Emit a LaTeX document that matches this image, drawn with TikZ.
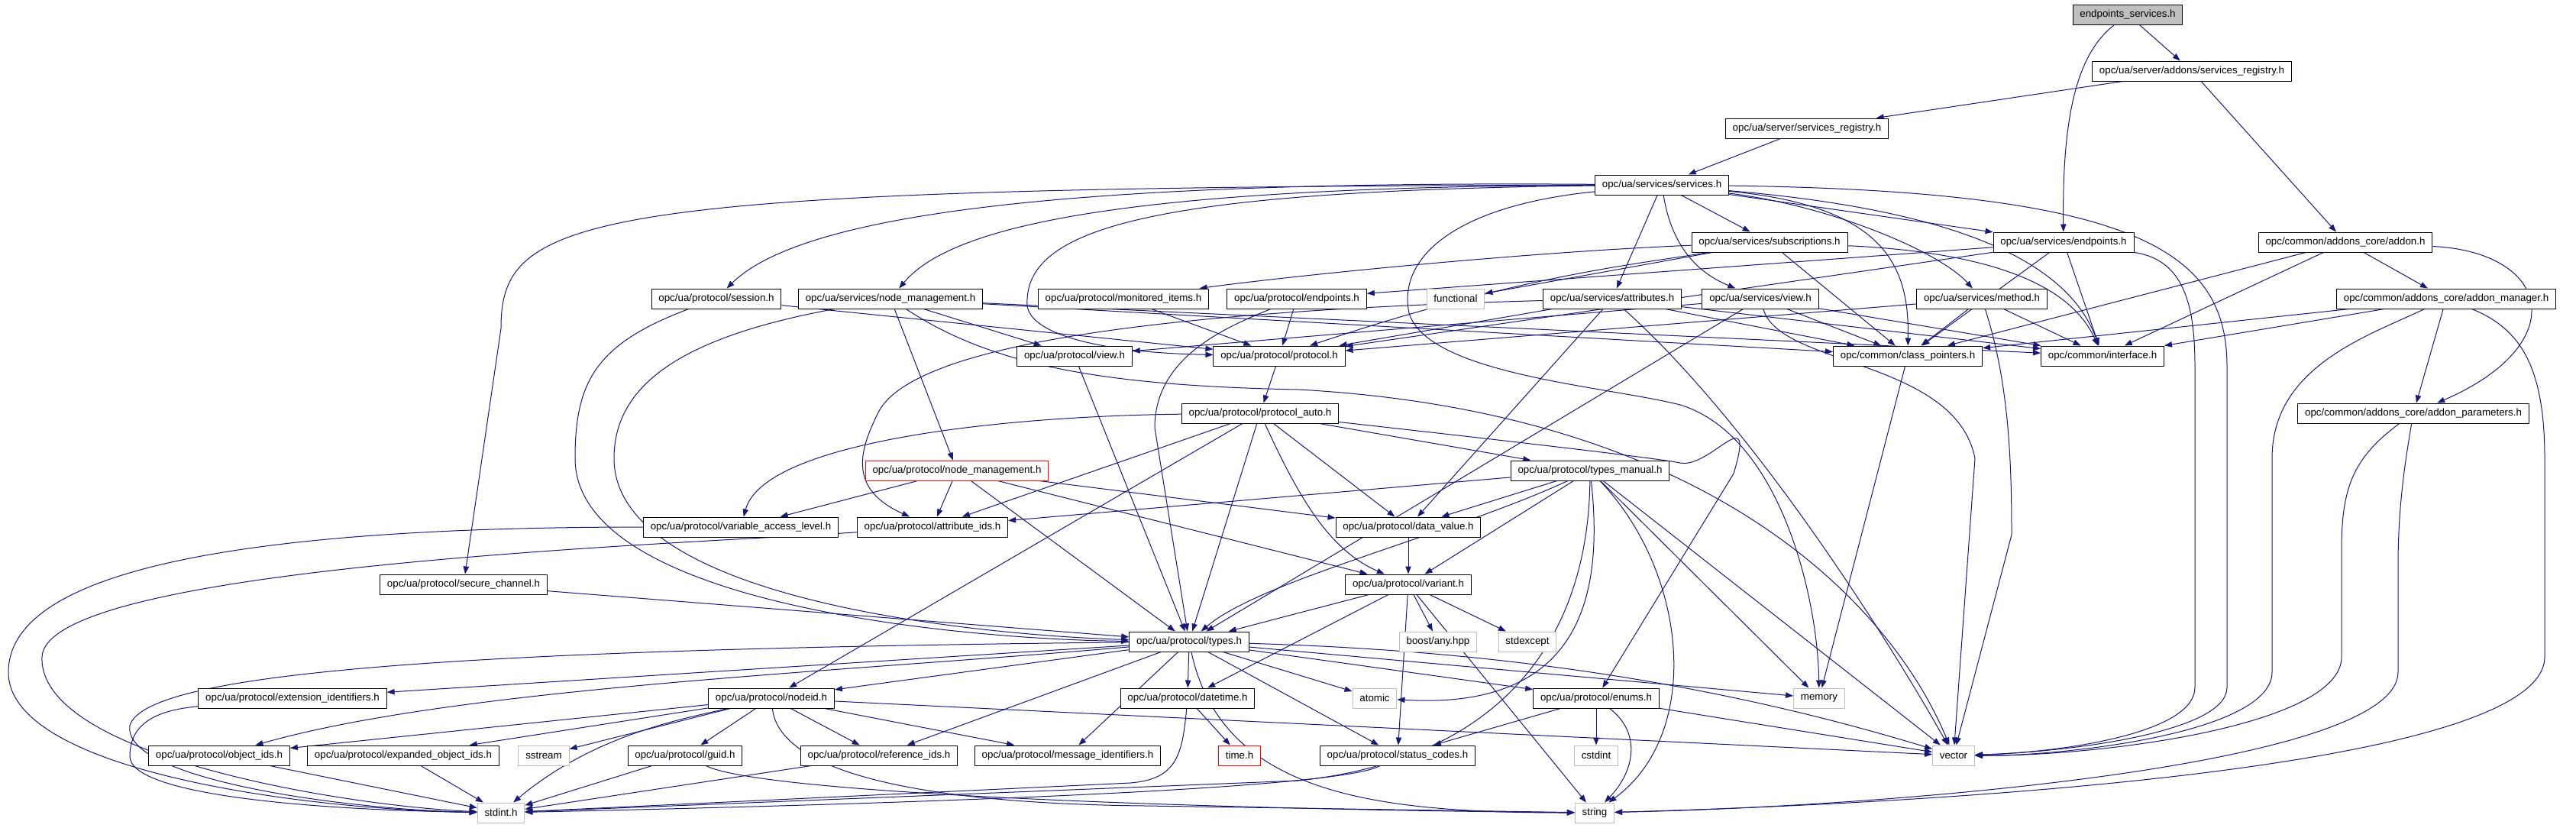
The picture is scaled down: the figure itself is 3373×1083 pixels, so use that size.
\documentclass[tikz,border=0pt]{standalone}
\usepackage{fontspec}
\setmainfont{Liberation Sans}
\usetikzlibrary{arrows.meta,backgrounds}
\definecolor{edgeblue}{RGB}{25,25,112}
\definecolor{boxgray}{RGB}{191,191,191}
\tikzset{
  hdr/.style={draw=black, fill=white, line width=0.75pt, font=\fontsize{10}{12}\selectfont,
    minimum height=19.5pt, inner xsep=7pt, inner ysep=0pt},
  roothdr/.style={hdr, fill=boxgray},
  syshdr/.style={hdr, draw=boxgray},
  nodoc/.style={hdr, draw=red},
  dep/.style={->, draw=edgeblue, line width=0.75pt},
}
\begin{document}
\begin{tikzpicture}[x=0.75pt, y=-0.75pt, >={Triangle[length=7.5pt,width=5.5pt]}]
    \useasboundingbox (0,0) rectangle (3373,1083);
    % === righe alte ===
    \node[roothdr] (es) at (2786,19) {endpoints\_services.h};
    \node[hdr] (asr) at (2870,93) {opc/ua/server/addons/services\_registry.h};
    \node[hdr] (ssr) at (2366,168) {opc/ua/server/services\_registry.h};
    \node[hdr] (svc) at (2176,242) {opc/ua/services/services.h};
    \node[hdr] (subs) at (2317,317) {opc/ua/services/subscriptions.h};
    \node[hdr] (sep) at (2702,317) {opc/ua/services/endpoints.h};
    \node[hdr] (addon) at (3071,317) {opc/common/addons\_core/addon.h};
    % === servizi e protocollo ===
    \node[hdr] (session) at (938,391) {opc/ua/protocol/session.h};
    \node[hdr] (snm) at (1166,391) {opc/ua/services/node\_management.h};
    \node[hdr] (monit) at (1471,391) {opc/ua/protocol/monitored\_items.h};
    \node[hdr] (pep) at (1698,391) {opc/ua/protocol/endpoints.h};
    \node[syshdr] (functional) at (1906,391) {functional};
    \node[hdr] (attr) at (2111,391) {opc/ua/services/attributes.h};
    \node[hdr] (sview) at (2305,391) {opc/ua/services/view.h};
    \node[hdr] (method) at (2595,391) {opc/ua/services/method.h};
    \node[hdr] (amgr) at (3203,391) {opc/common/addons\_core/addon\_manager.h};
    \node[hdr] (pview) at (1407,466) {opc/ua/protocol/view.h};
    \node[hdr] (proto) at (1675,466) {opc/ua/protocol/protocol.h};
    \node[hdr] (cptr) at (2498,466) {opc/common/class\_pointers.h};
    \node[hdr] (iface) at (2753,466) {opc/common/interface.h};
    \node[hdr] (pauto) at (1650,541) {opc/ua/protocol/protocol\_auto.h};
    \node[hdr] (aparam) at (3160,541) {opc/common/addons\_core/addon\_parameters.h};
    \node[nodoc] (pnm) at (1253,616) {opc/ua/protocol/node\_management.h};
    \node[hdr] (tman) at (2082,616) {opc/ua/protocol/types\_manual.h};
    \node[hdr] (val) at (970,690) {opc/ua/protocol/variable\_access\_level.h};
    \node[hdr] (attrid) at (1221,690) {opc/ua/protocol/attribute\_ids.h};
    \node[hdr] (dval) at (1844,690) {opc/ua/protocol/data\_value.h};
    \node[hdr] (secch) at (607,765) {opc/ua/protocol/secure\_channel.h};
    \node[hdr] (variant) at (1844,765) {opc/ua/protocol/variant.h};
    % === tipi ===
    \node[hdr] (types) at (1557,840) {opc/ua/protocol/types.h};
    \node[syshdr] (boostany) at (1883,840) {boost/any.hpp};
    \node[syshdr] (stdexcept) at (2000,840) {stdexcept};
    \node[hdr] (extid) at (383,914) {opc/ua/protocol/extension\_identifiers.h};
    \node[hdr] (nodeid) at (1010,914) {opc/ua/protocol/nodeid.h};
    \node[hdr] (datetime) at (1555,914) {opc/ua/protocol/datetime.h};
    \node[syshdr] (atomic) at (1800,914) {atomic};
    \node[hdr] (enums) at (2090,914) {opc/ua/protocol/enums.h};
    \node[syshdr] (memory) at (2382,914) {memory};
    \node[hdr] (objids) at (287,989) {opc/ua/protocol/object\_ids.h};
    \node[hdr] (eobjids) at (528,989) {opc/ua/protocol/expanded\_object\_ids.h};
    \node[syshdr] (sstream) at (712,989) {sstream};
    \node[hdr] (guid) at (897,989) {opc/ua/protocol/guid.h};
    \node[hdr] (refids) at (1151,989) {opc/ua/protocol/reference\_ids.h};
    \node[hdr] (msgids) at (1398,989) {opc/ua/protocol/message\_identifiers.h};
    \node[nodoc] (timeh) at (1623,989) {time.h};
    \node[hdr] (status) at (1830,989) {opc/ua/protocol/status\_codes.h};
    \node[syshdr] (cstdint) at (2090,989) {cstdint};
    \node[syshdr] (vector) at (2558,989) {vector};
    \node[syshdr] (stdint) at (656,1064) {stdint.h};
    \node[syshdr] (string) at (2088,1064) {string};

    \begin{scope}[on background layer]
    \fill[white] (0,0) rectangle (3373,1083);
    % === dipendenze in alto ===
    \draw[dep] (es) .. controls (2720,70) and (2700,150) .. (sep);
    \draw[dep] (es) -- (asr);
    \draw[dep] (asr) -- (ssr);
    \draw[dep] (asr) -- (addon);
    \draw[dep] (ssr) -- (svc);
    % services.h
    \draw[dep] (svc) .. controls (1400,236) and (1050,280) .. (session);
    \draw[dep] (svc) .. controls (1500,245) and (1250,290) .. (snm);
    \draw[dep] (svc) .. controls (760,245) and (656,280) .. (656,430) -- (secch);
    \draw[dep] (svc) .. controls (1500,250) and (1340,300) .. (1345,400) .. controls (1350,440) and (1450,462) .. (proto);
    \draw[dep] (svc) -- (subs);
    \draw[dep] (svc) -- (sep);
    \draw[dep] (svc) -- (attr);
    \draw[dep] (svc) .. controls (2190,330) and (2230,360) .. (sview);
    \draw[dep] (svc) .. controls (2400,270) and (2540,330) .. (method);
    \draw[dep] (svc) .. controls (2470,270) and (2500,350) .. (cptr);
    \draw[dep] (svc) .. controls (2500,270) and (2700,320) .. (iface);
    \draw[dep] (svc) .. controls (1900,270) and (1830,340) .. (1845,410) .. controls (1870,490) and (2100,505) .. (2200,530) .. controls (2330,570) and (2380,780) .. (memory);
    \draw[dep] (svc) .. controls (2800,250) and (2916,330) .. (2916,480) -- (2916,900) .. controls (2916,960) and (2700,985) .. (vector);
    % subscriptions.h, endpoints.h
    \draw[dep] (subs) .. controls (2000,330) and (1700,360) .. (monit);
    \draw[dep] (subs) -- (functional);
    \draw[dep] (subs) .. controls (2150,345) and (1990,360) .. (proto);
    \draw[dep] (subs) -- (cptr);
    \draw[dep] (subs) .. controls (2600,330) and (2710,370) .. (iface);
    \draw[dep] (sep) -- (pep);
    \draw[dep] (sep) -- (proto);
    \draw[dep] (sep) -- (cptr);
    \draw[dep] (sep) -- (iface);
    \draw[dep] (sep) .. controls (2860,340) and (2874,400) .. (2874,480) -- (2874,900) .. controls (2874,960) and (2700,985) .. (vector);
    % addon
    \draw[dep] (addon) -- (amgr);
    \draw[dep] (addon) -- (cptr);
    \draw[dep] (addon) -- (iface);
    \draw[dep] (addon) .. controls (3340,330) and (3370,450) .. (aparam);
    \draw[dep] (amgr) -- (cptr);
    \draw[dep] (amgr) -- (iface);
    \draw[dep] (amgr) -- (aparam);
    \draw[dep] (amgr) .. controls (3100,440) and (2975,480) .. (2975,600) -- (2975,880) .. controls (2975,960) and (2700,990) .. (vector);
    \draw[dep] (amgr) .. controls (3300,430) and (3332,480) .. (3332,600) -- (3332,860) .. controls (3332,1000) and (2600,1050) .. (string);
    \draw[dep] (aparam) .. controls (3080,600) and (3066,640) .. (3066,720) -- (3066,860) .. controls (3066,950) and (2750,990) .. (vector);
    \draw[dep] (aparam) .. controls (3150,600) and (3140,660) .. (3140,740) -- (3140,880) .. controls (3140,1000) and (2500,1055) .. (string);
    % session, node_management, view
    \draw[dep] (session) -- (proto);
    \draw[dep] (session) .. controls (780,450) and (753,500) .. (753,600) .. controls (753,800) and (1300,838) .. (types);
    \draw[dep] (snm) -- (pview);
    \draw[dep] (snm) -- (pnm);
    \draw[dep] (snm) -- (cptr);
    \draw[dep] (snm) -- (iface);
    \draw[dep] (snm) .. controls (900,440) and (804,500) .. (804,600) .. controls (804,790) and (1300,832) .. (types);
    \draw[dep] (snm) .. controls (1300,480) and (1450,505) .. (1700,510) .. controls (2250,540) and (2480,800) .. (vector);
    \draw[dep] (monit) -- (proto);
    \draw[dep] (pep) -- (proto);
    \draw[dep] (pep) .. controls (1600,430) and (1512,470) .. (1512,560) -- (types);
    \draw[dep] (attr) -- (proto);
    \draw[dep] (attr) .. controls (1600,405) and (1200,440) .. (1150,540) .. controls (1125,590) and (1110,640) .. (attrid);
    \draw[dep] (attr) -- (dval);
    \draw[dep] (attr) -- (cptr);
    \draw[dep] (attr) -- (iface);
    \draw[dep] (attr) .. controls (2300,560) and (2480,850) .. (vector);
    \draw[dep] (sview) -- (pview);
    \draw[dep] (sview) -- (types);
    \draw[dep] (sview) -- (cptr);
    \draw[dep] (sview) -- (iface);
    \draw[dep] (sview) .. controls (2330,480) and (2560,470) .. (2586,600) -- (vector);
    \draw[dep] (method) -- (proto);
    \draw[dep] (method) -- (cptr);
    \draw[dep] (method) -- (iface);
    \draw[dep] (method) .. controls (2630,500) and (2634,600) .. (2634,700) -- (vector);
    % protocol.h, protocol_auto.h
    \draw[dep] (pview) -- (types);
    \draw[dep] (proto) -- (pauto);
    \draw[dep] (cptr) -- (memory);
    \draw[dep] (pauto) .. controls (1300,545) and (1000,580) .. (val);
    \draw[dep] (pauto) -- (attrid);
    \draw[dep] (pauto) -- (nodeid);
    \draw[dep] (pauto) -- (types);
    \draw[dep] (pauto) -- (dval);
    \draw[dep] (pauto) .. controls (1700,650) and (1740,720) .. (variant);
    \draw[dep] (pauto) -- (tman);
    \draw[dep] (pauto) .. controls (2000,580) and (2170,600) .. (2200,606) .. controls (2240,614) and (2300,520) .. (2270,620) -- (enums);
    \draw[dep] (pnm) -- (val);
    \draw[dep] (pnm) -- (attrid);
    \draw[dep] (pnm) -- (types);
    \draw[dep] (pnm) -- (dval);
    \draw[dep] (pnm) -- (variant);
    % types_manual.h
    \draw[dep] (tman) -- (attrid);
    \draw[dep] (tman) -- (dval);
    \draw[dep] (tman) -- (variant);
    \draw[dep] (tman) .. controls (1900,700) and (1650,760) .. (types);
    \draw[dep] (tman) .. controls (2100,780) and (2070,930) .. (atomic);
    \draw[dep] (tman) -- (memory);
    \draw[dep] (tman) -- (vector);
    \draw[dep] (tman) .. controls (2210,750) and (2230,960) .. (string);
    \draw[dep] (tman) .. controls (2080,800) and (2000,990) .. (1700,1022) -- (stdint);
    \draw[dep] (val) .. controls (300,690) and (11,750) .. (11,880) .. controls (11,1010) and (400,1060) .. (stdint);
    \draw[dep] (attrid) .. controls (900,712) and (60,740) .. (55,860) .. controls (50,990) and (450,1055) .. (stdint);
    \draw[dep] (dval) -- (variant);
    \draw[dep] (secch) -- (types);
    % variant.h
    \draw[dep] (variant) -- (types);
    \draw[dep] (variant) -- (datetime);
    \draw[dep] (variant) -- (boostany);
    \draw[dep] (variant) -- (stdexcept);
    \draw[dep] (variant) -- (status);
    \draw[dep] (variant) -- (string);
    % types.h
    \draw[dep] (types) -- (extid);
    \draw[dep] (types) -- (nodeid);
    \draw[dep] (types) -- (datetime);
    \draw[dep] (types) .. controls (1100,880) and (600,900) .. (objids);
    \draw[dep] (types) -- (refids);
    \draw[dep] (types) -- (msgids);
    \draw[dep] (types) -- (status);
    \draw[dep] (types) -- (atomic);
    \draw[dep] (types) -- (enums);
    \draw[dep] (types) -- (memory);
    \draw[dep] (types) .. controls (1900,850) and (2200,880) .. (vector);
    \draw[dep] (types) .. controls (1600,1040) and (1800,1064) .. (string);
    \draw[dep] (types) .. controls (600,850) and (190,880) .. (170,950) .. controls (160,1020) and (450,1060) .. (stdint);
    % nodeid.h
    \draw[dep] (nodeid) -- (objids);
    \draw[dep] (nodeid) -- (eobjids);
    \draw[dep] (nodeid) -- (sstream);
    \draw[dep] (nodeid) -- (guid);
    \draw[dep] (nodeid) -- (refids);
    \draw[dep] (nodeid) -- (msgids);
    \draw[dep] (nodeid) .. controls (900,940) and (780,960) .. (stdint);
    \draw[dep] (nodeid) .. controls (1020,1010) and (1200,1052) .. (1500,1055) -- (string);
    \draw[dep] (nodeid) -- (vector);
    % foglie
    \draw[dep] (datetime) -- (timeh);
    \draw[dep] (datetime) .. controls (1548,990) and (1540,1020) .. (1480,1025) -- (stdint);
    \draw[dep] (enums) -- (status);
    \draw[dep] (enums) -- (cstdint);
    \draw[dep] (enums) .. controls (2150,960) and (2140,1010) .. (string);
    \draw[dep] (enums) -- (vector);
    \draw[dep] (extid) .. controls (200,930) and (170,950) .. (170,990) .. controls (170,1040) and (400,1060) .. (stdint);
    \draw[dep] (objids) -- (stdint);
    \draw[dep] (eobjids) -- (stdint);
    \draw[dep] (guid) -- (stdint);
    \draw[dep] (guid) .. controls (1000,1040) and (1600,1060) .. (string);
    \draw[dep] (refids) -- (stdint);
    \draw[dep] (status) .. controls (1760,1030) and (1300,1050) .. (stdint);
    \end{scope}
\end{tikzpicture}
\end{document}
